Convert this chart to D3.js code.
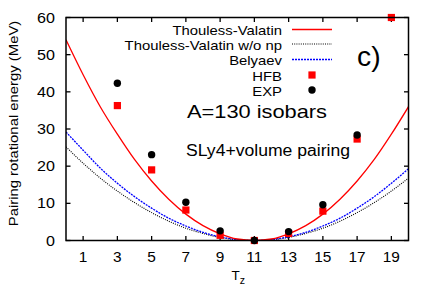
<html>
<head>
<style>
  body { margin: 0; background: #fff; }
  text { font-family: "Liberation Sans", Arial, sans-serif; }
</style>
</head>
<body>
<svg width="436" height="305" class="chart"></svg>
<script src="https://d3js.org/d3.v7.min.js"></script>
<script>
    tzGrid = [0,1,2,3,4,5,6,7,8,9,10,11,12,13,14,15,16,17,18,19,20]
    thoulessValatin = [54,44.6,36,28.6,21.8,16,11.1,7.1,4,1.8,0.4,0,0.4,1.8,4,7.1,11.1,16,21.8,28.6,36]
    thoulessNoNp = [25.2,20.8,16.8,13.3,10.2,7.5,5.2,3.3,1.9,0.8,0.2,0,0.2,0.8,1.9,3.3,5.2,7.5,10.2,13.3,16.8]
    belyaev = [29.2,24.3,19.5,15.4,11.8,8.7,6,3.9,2.2,1,0.25,0,0.25,1,2.2,3.9,6,8.7,11.8,15.4,19.3]

    hfbTz = [3,5,7,9,11,13,15,17,19]
    hfb = [36.3,19,8.2,1.4,0,1.9,7.9,27.3,60]
    expTz = [3,5,7,9,11,13,15,17]
    exp = [42.3,23.1,10.3,2.6,0,2.4,9.6,28.4]

    xTicks = [1,3,5,7,9,11,13,15,17,19]
    yTicks = [0,10,20,30,40,50,60]

    var svg = d3.select(".chart")
    var L = 66, R = 408.5, T = 17.5, B = 240.5
    var x = d3.scaleLinear().domain([0,20]).range([L,R])
    var y = d3.scaleLinear().domain([0,60]).range([B,T])

    // the original glyphs are a bit wider than Liberation Sans
    function stretch(sel, k){
        sel.each(function(){
            var w = this.getComputedTextLength()
            d3.select(this).attr("textLength", w*k).attr("lengthAdjust","spacingAndGlyphs")
        })
    }

    svg.append("clipPath").attr("id","clip").append("rect")
        .attr("x",L).attr("y",T).attr("width",R-L).attr("height",B-T)

    // ticks on all four sides, pointing inward
    var tl = 4.5
    var ax = svg.append("g").attr("stroke","black").attr("stroke-width",1.3)
    xTicks.forEach(function(t){
        ax.append("line").attr("x1",x(t)).attr("x2",x(t)).attr("y1",B).attr("y2",B-tl)
        ax.append("line").attr("x1",x(t)).attr("x2",x(t)).attr("y1",T).attr("y2",T+tl)
    })
    yTicks.forEach(function(t){
        ax.append("line").attr("x1",L).attr("x2",L+tl).attr("y1",y(t)).attr("y2",y(t))
        ax.append("line").attr("x1",R).attr("x2",R-tl).attr("y1",y(t)).attr("y2",y(t))
    })

    var xl = svg.append("g").selectAll("text").data(xTicks).enter().append("text")
        .attr("x",function(d){return x(d)}).attr("y",B+21)
        .attr("text-anchor","middle").attr("font-size",14).text(function(d){return d})
    stretch(xl, 1.1)
    var yl = svg.append("g").selectAll("text").data(yTicks).enter().append("text")
        .attr("x",55).attr("y",function(d){return y(d)+5})
        .attr("text-anchor","end").attr("font-size",14).text(function(d){return d})
    stretch(yl, 1.15)

    var ylab = svg.append("text").attr("transform","translate(17.5,123.5) rotate(-90)")
        .attr("text-anchor","middle").attr("font-size",13.5).text("Pairing rotational energy (MeV)")
    stretch(ylab, 1.1)
    var tz = svg.append("text").attr("x",231.5).attr("y",280).attr("font-size",13.5)
    tz.append("tspan").text("T")
    tz.append("tspan").attr("font-size",10.5).attr("dy",4).text("z")

    var line = function(vals){
        return d3.line().curve(d3.curveMonotoneX)
            .x(function(d,i){return x(tzGrid[i])}).y(function(d){return y(d)})(vals)
    }
    var curves = svg.append("g").attr("clip-path","url(#clip)").attr("fill","none")
    curves.append("path").attr("d",line(thoulessNoNp)).attr("stroke","black").attr("stroke-width",1.1).attr("stroke-dasharray","1,1.2")
    curves.append("path").attr("d",line(belyaev)).attr("stroke","#0000ff").attr("stroke-width",1.3).attr("stroke-dasharray","2,1")
    curves.append("path").attr("d",line(thoulessValatin)).attr("stroke","#ff0000").attr("stroke-width",1.3)

    svg.append("g").selectAll("rect").data(hfb).enter().append("rect")
        .attr("x",function(d,i){return x(hfbTz[i])-3.6}).attr("y",function(d){return y(d)-3.6})
        .attr("width",7.2).attr("height",7.2).attr("fill","#ff0000")
    svg.append("g").selectAll("circle").data(exp).enter().append("circle")
        .attr("cx",function(d,i){return x(expTz[i])}).attr("cy",function(d){return y(d)})
        .attr("r",3.7).attr("fill","black")

    // frame
    svg.append("rect").attr("x",L).attr("y",T).attr("width",R-L).attr("height",B-T)
        .attr("fill","none").attr("stroke","black").attr("stroke-width",1.5)

    // legend
    var lg = svg.append("g").attr("font-size",13.5)
    var rows = [
        {name:"Thouless-Valatin", y:29.5},
        {name:"Thouless-Valatin w/o np", y:44},
        {name:"Belyaev", y:59.5},
        {name:"HFB", y:75},
        {name:"EXP", y:90}
    ]
    var lt = lg.selectAll("text").data(rows).enter().append("text")
        .attr("x",282).attr("y",function(r){return r.y+5.5}).attr("text-anchor","end").text(function(r){return r.name})
    stretch(lt, 1.1)
    lg.append("line").attr("x1",292).attr("x2",332).attr("y1",rows[0].y).attr("y2",rows[0].y).attr("stroke","#ff0000").attr("stroke-width",1.3)
    lg.append("line").attr("x1",292).attr("x2",332).attr("y1",rows[1].y).attr("y2",rows[1].y).attr("stroke","black").attr("stroke-width",1.1).attr("stroke-dasharray","1,1.2")
    lg.append("line").attr("x1",292).attr("x2",332).attr("y1",rows[2].y).attr("y2",rows[2].y).attr("stroke","#0000ff").attr("stroke-width",1.3).attr("stroke-dasharray","2,1")
    lg.append("rect").attr("x",312-3.6).attr("y",rows[3].y-3.6).attr("width",7.2).attr("height",7.2).attr("fill","#ff0000")
    lg.append("circle").attr("cx",312).attr("cy",rows[4].y).attr("r",3.7).attr("fill","black")

    stretch(svg.append("text").attr("x",357).attr("y",65.5).attr("font-size",27).text("c)"), 1.05)
    svg.append("text").attr("x",187).attr("y",117.5).attr("font-size",18.5)
        .attr("textLength",140).attr("lengthAdjust","spacingAndGlyphs").text("A=130 isobars")
    svg.append("text").attr("x",186).attr("y",155.5).attr("font-size",16)
        .attr("textLength",164).attr("lengthAdjust","spacingAndGlyphs").text("SLy4+volume pairing")
</script>
</body>
</html>
